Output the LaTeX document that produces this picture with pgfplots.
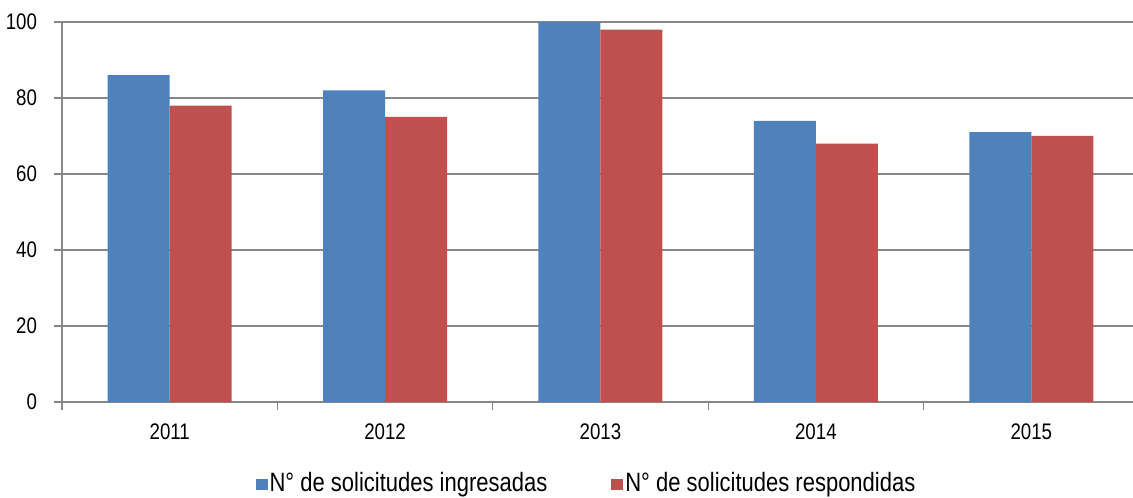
\documentclass[border=0pt]{standalone}
\usepackage{fontspec}
\setmainfont{Liberation Sans}
\newfontfamily\narrow[FakeStretch=0.83]{Liberation Sans}
\usepackage{pgfplots}
\pgfplotsset{compat=1.18}
\definecolor{barblue}{HTML}{4F81BD}
\definecolor{barred}{HTML}{C0504D}
\definecolor{gridgray}{HTML}{878787}
\begin{document}
\begin{tikzpicture}
\useasboundingbox (-62bp,-96bp) rectangle (1071bp,402bp);
\begin{axis}[
    scale only axis,
    width=1077bp, height=380bp,
    ybar=0pt, bar width=62bp,
    xmin=-0.5, xmax=4.5,
    ymin=0, ymax=100,
    ytick={0,20,...,100},
    xtick={-0.5,0.5,...,4.5},
    x tick label as interval,
    xticklabels={2011,2012,2013,2014,2015},
    axis lines*=left,
    axis line style={draw=gridgray, line width=1.3bp},
    ymajorgrids=true,
    grid style={draw=gridgray, line width=1.3bp},
    tick style={draw=gridgray, line width=1.3bp},
    tick align=outside,
    major tick length=7.5bp,
    /pgf/number format/assume math mode=true,
    tick label style={font=\narrow\fontsize{22.5bp}{26bp}\selectfont, text=black},
    xticklabel style={yshift=-11bp},
    yticklabel style={xshift=-14bp},
    legend columns=2,
    legend style={at={(0.487,-0.213)}, anchor=center, draw=none, fill=none,
        font=\narrow\fontsize{26.5bp}{30bp}\selectfont,
        /tikz/every even column/.append style={column sep=62bp}},
    legend image code/.code={\fill[#1] (0bp,-7bp) rectangle (12bp,4bp);},
]
\addplot[fill=barblue, draw=none] coordinates {(0,86) (1,82) (2,100) (3,74) (4,71)};
\addlegendentry{N° de solicitudes ingresadas}
\addplot[fill=barred, draw=none] coordinates {(0,78) (1,75) (2,98) (3,68) (4,70)};
\addlegendentry{N° de solicitudes respondidas}
\end{axis}
\end{tikzpicture}
\end{document}
